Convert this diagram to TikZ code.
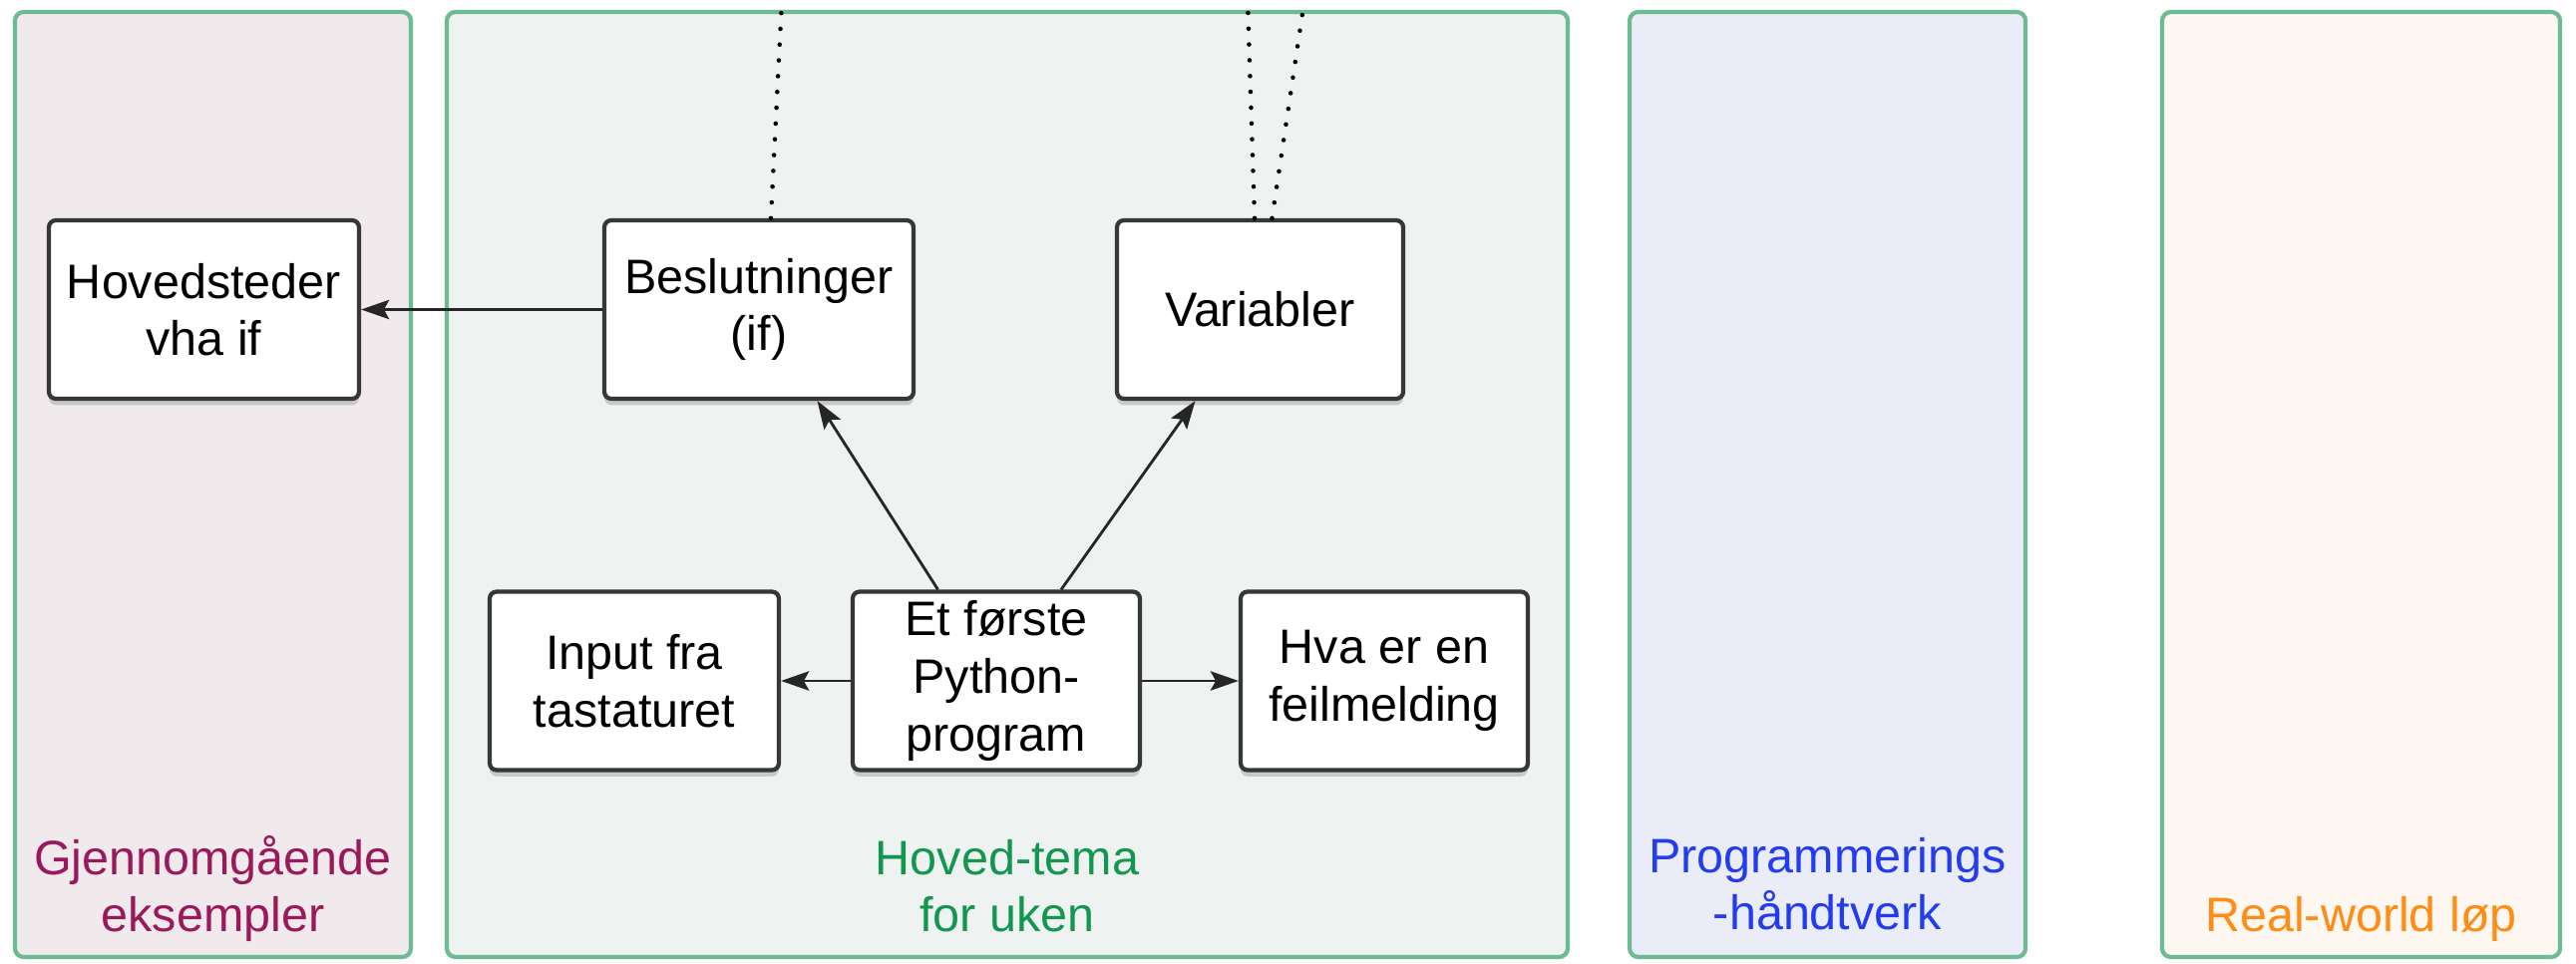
\documentclass[tikz,border=0pt]{standalone}
\usepackage{fontspec}
\setmainfont{Liberation Sans}
\usetikzlibrary{arrows.meta,shadows}

\definecolor{panelline}{RGB}{108,187,147}
\definecolor{exfill}{RGB}{240,234,236}
\definecolor{exlabel}{RGB}{155,25,90}
\definecolor{mainfill}{RGB}{238,243,241}
\definecolor{mainlabel}{RGB}{18,150,80}
\definecolor{craftfill}{RGB}{234,236,248}
\definecolor{craftlabel}{RGB}{35,60,240}
\definecolor{worldfill}{RGB}{255,248,242}
\definecolor{worldlabel}{RGB}{255,140,20}
\definecolor{boxline}{RGB}{55,55,55}

\tikzset{
  panel/.style={draw=panelline, line width=1.2pt, rounded corners=2.5pt},
  paneltext/.style={font=\fontsize{13.8}{16}\selectfont, align=center, anchor=base, inner sep=0pt},
  topic/.style={draw=boxline, fill=white, line width=1.2pt, rounded corners=2pt, minimum height=1.79cm,
    align=center, inner sep=0pt, font=\fontsize{13.8}{16.4}\selectfont,
    drop shadow={shadow xshift=0pt, shadow yshift=-1.8pt, opacity=0.35}},
  link/.style={draw=black!85, line width=0.8pt, -{Stealth[length=8pt,width=5.5pt,inset=1.5pt]}},
  trail/.style={line width=1.3pt, dash pattern=on 0.01pt off 4.5pt, line cap=round}
}

\begin{document}
\begin{tikzpicture}
\useasboundingbox (0,0) rectangle (25.83,9.66);

% columns
\draw[panel, fill=exfill] (0.15,0.06) rectangle (4.12,9.54);
\draw[panel, fill=mainfill] (4.48,0.06) rectangle (15.72,9.54);
\draw[panel, fill=craftfill] (16.34,0.06) rectangle (20.31,9.54);
\draw[panel, fill=worldfill] (21.68,0.06) rectangle (25.67,9.54);

\node[paneltext, text=exlabel] (exlbl) at (2.135,0.32) {Gjennomgående\\eksempler};
\node[paneltext, text=mainlabel] (mainlbl) at (10.10,0.32) {Hoved-tema\\for uken};
\node[paneltext, text=craftlabel] (craftlbl) at (18.325,0.34) {Programmerings\\-håndtverk};
\node[paneltext, text=worldlabel] (worldlbl) at (23.675,0.32) {Real-world løp};

% topics
\node[topic, minimum width=3.11cm] (hoved) at (2.045,6.555) {Hovedsteder\\vha if};
\node[topic, minimum width=3.10cm] (besl) at (7.61,6.555) {Beslutninger\\(if)};
\node[topic, minimum width=2.87cm] (var) at (12.635,6.555) {Variabler};
\node[topic, minimum width=2.90cm] (input) at (6.36,2.83) {Input fra\\tastaturet};
\node[topic, minimum width=2.88cm] (prog) at (9.99,2.83) {Et første\\Python-\\program};
\node[topic, minimum width=2.88cm] (feil) at (13.88,2.83) {Hva er en\\feilmelding};

\draw[link] (besl) -- (hoved);
\draw[link] (prog) -- (besl);
\draw[link] (prog) -- (var);
\draw[link] (prog) -- (input);
\draw[link] (prog) -- (feil);

% links to topics above
\coordinate (beslup) at (7.84,9.66);
\coordinate (varup1) at (12.51,9.66);
\coordinate (varup2) at (13.08,9.66);
\draw[trail] ([xshift=0.12cm]besl.north) -- (beslup);
\draw[trail] ([xshift=-0.055cm]var.north) -- (varup1);
\draw[trail] ([xshift=0.12cm]var.north) -- (varup2);
\end{tikzpicture}
\end{document}
